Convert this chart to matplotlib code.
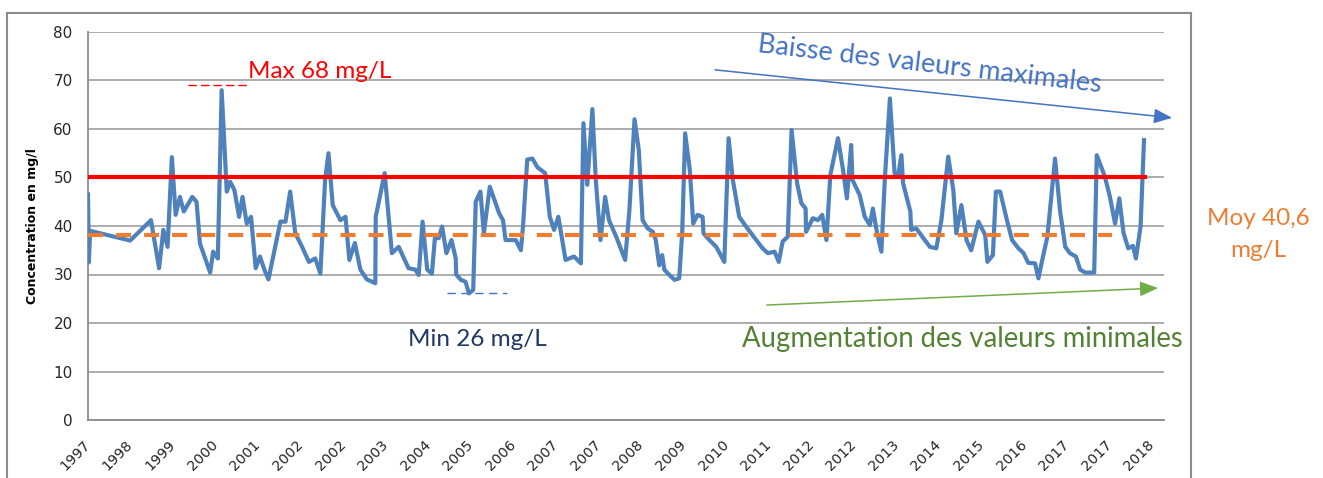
import matplotlib
matplotlib.use("Agg")
import matplotlib.pyplot as plt
from matplotlib.lines import Line2D

# position along the category axis (1 unit = one labelled step) and concentration (mg/l)
pos = [0.00, 0.02, 0.05, 0.99, 1.48, 1.67, 1.77, 1.87, 1.97, 2.06, 2.16, 2.25, 2.45, 2.55, 2.63,
       2.87, 2.94, 3.05, 3.14, 3.26, 3.34, 3.44, 3.55, 3.63, 3.73, 3.83, 3.94, 4.04, 4.16, 4.24,
       4.52, 4.64, 4.75, 4.87, 5.03, 5.19, 5.34, 5.46, 5.57, 5.65, 5.75, 5.93, 6.05, 6.14, 6.27,
       6.40, 6.55, 6.75, 6.76, 6.97, 7.14, 7.30, 7.53, 7.69, 7.77, 7.86, 7.97, 8.08, 8.15, 8.24,
       8.32, 8.42, 8.54, 8.64, 8.65, 8.76, 8.87, 8.95, 9.05, 9.11, 9.22, 9.30, 9.44, 9.66, 9.75,
       9.81, 10.05, 10.17, 10.22, 10.32, 10.44, 10.56, 10.74, 10.85, 10.95, 11.05, 11.22, 11.42,
       11.58, 11.64, 11.73, 11.85, 11.93, 12.04, 12.15, 12.24, 12.41, 12.62, 12.72, 12.84, 12.94,
       13.03, 13.15, 13.27, 13.34, 13.42, 13.49, 13.54, 13.66, 13.78, 13.89, 13.96, 14.03, 14.14,
       14.22, 14.32, 14.44, 14.46, 14.60, 14.76, 14.95, 15.05, 15.15, 15.30, 15.46, 15.70, 15.85,
       15.97, 16.13, 16.23, 16.32, 16.44, 16.53, 16.66, 16.76, 16.86, 16.87, 17.03, 17.15, 17.25,
       17.35, 17.44, 17.62, 17.74, 17.83, 17.93, 17.96, 18.13, 18.25, 18.37, 18.44, 18.54, 18.64,
       18.72, 18.84, 18.95, 19.03, 19.11, 19.15, 19.32, 19.34, 19.46, 19.66, 19.78, 19.93, 20.05,
       20.21, 20.33, 20.40, 20.52, 20.64, 20.75, 20.92, 21.08, 21.13, 21.26, 21.33, 21.43, 21.59,
       21.71, 21.86, 21.98, 22.09, 22.25, 22.33, 22.41, 22.54, 22.72, 22.84, 22.96, 23.07, 23.21,
       23.31, 23.43, 23.64, 23.70, 23.89, 24.01, 24.13, 24.23, 24.33, 24.44, 24.55, 24.62, 24.73,
       24.81]
conc = [46.5, 32.5, 39.0, 37.0, 41.2, 31.3, 39.2, 35.7, 54.2, 42.3, 46.0, 43.0, 46.0, 45.0, 36.4,
        30.4, 34.7, 33.3, 68.0, 47.1, 49.1, 47.4, 41.9, 46.0, 40.5, 41.9, 31.3, 33.7, 30.6, 29.0,
        40.9, 40.9, 47.1, 38.5, 35.7, 32.6, 33.3, 30.2, 49.5, 55.0, 44.3, 41.2, 41.9, 33.0, 36.5,
        31.0, 29.0, 28.2, 41.9, 50.9, 34.4, 35.7, 31.3, 31.0, 29.9, 40.9, 31.0, 30.2, 37.5, 37.5,
        39.9, 34.4, 37.1, 33.3, 30.0, 28.9, 28.5, 26.1, 26.8, 45.0, 47.1, 38.5, 48.1, 42.6, 41.2,
        37.1, 37.1, 35.0, 39.9, 53.7, 53.9, 52.1, 50.9, 41.9, 39.2, 41.9, 33.0, 33.7,
        32.3, 61.2, 48.5, 64.1, 49.5, 37.1, 46.0, 41.2, 37.8, 33.0, 43.3, 62.0, 55.7,
        41.2, 39.5, 38.8, 37.1, 31.9, 34.0, 31.0, 29.9, 28.9, 29.2, 38.5, 59.1, 51.5,
        40.5, 42.3, 41.9, 38.5, 37.1, 35.7, 32.6, 58.1, 49.5, 41.9, 39.9, 37.1, 35.4,
        34.4, 34.7, 32.6, 36.8, 37.8, 59.8, 48.8, 44.7, 43.6, 38.8, 41.6, 41.2, 42.3,
        37.1, 50.5, 58.1, 51.5, 45.7, 56.7, 49.5, 46.4, 41.9, 40.2, 43.6, 38.5, 34.7,
        49.5, 66.3, 50.9, 50.2, 54.6, 48.8, 43.0, 39.2, 39.5, 37.1, 35.7, 35.4, 41.2,
        54.3, 47.4, 38.5, 44.3, 37.1, 35.0, 40.9, 38.1, 32.6, 34.0, 47.1, 47.1, 41.2,
        37.1, 35.4, 34.4, 32.4, 32.3, 29.2, 32.6, 37.8, 53.9, 43.0, 35.7, 34.4, 33.7,
        31.0, 30.4, 30.4, 54.6, 50.2, 46.0, 40.5, 45.7, 38.5, 35.4, 35.9, 33.3, 39.9,
        57.7]

year_labels = ['1997', '1998', '1999', '2000', '2001', '2002', '2002', '2003', '2004',
               '2005', '2006', '2007', '2007', '2008', '2009', '2010', '2011', '2012', '2012',
               '2013', '2014', '2015', '2016', '2017', '2017', '2018']

seuil = 50
moyenne = 38.2
val_max = 68
val_min = 26

plt.rcParams['lines.scale_dashes'] = False
txt_font = ['Lato', 'DejaVu Sans']

fig = plt.figure(figsize=(13.23, 4.78), dpi=100)
ax = fig.add_axes([88/1323, 1 - 420/478, (1164-88)/1323, (420-32)/478])

ax.set_xlim(0, 25.28)
ax.set_ylim(0, 80)
ax.set_yticks(range(0, 81, 10))
ax.yaxis.grid(True, color='#a6a6a6', linewidth=1.3)
ax.set_axisbelow(True)
ax.set_xticks(range(len(year_labels)))
ax.set_xticklabels(year_labels, rotation=45, ha='right', va='center', rotation_mode='anchor',
                   fontsize=10.3, color='#262626')
ax.tick_params(axis='x', length=0, pad=16)
ax.tick_params(axis='y', length=0, pad=11, labelsize=11, labelcolor='#262626')
for s in ['top', 'right']:
    ax.spines[s].set_visible(False)
ax.spines['left'].set_color('#8c8c8c')
ax.spines['bottom'].set_color('#8c8c8c')
ax.spines['left'].set_linewidth(1.3)
ax.spines['bottom'].set_linewidth(1.3)

# series
ax.plot(pos, conc, color='#4f81bd', linewidth=3, solid_joinstyle='round', zorder=3)
ax.plot([0, 24.84], [seuil, seuil], color='#ff0000', linewidth=3, zorder=4)
ax.plot([0, 24.06], [moyenne, moyenne], color='#ed7d31', linewidth=3,
        dashes=(10.8, 9.4), zorder=4)

# max / min markers
ax.plot([2.35, 3.76], [69.1, 69.1], color='#ff0000', linewidth=1, dashes=(6, 3), clip_on=False)
ax.plot([8.43, 9.84], [val_min + 0.2, val_min + 0.2], color='#4472c4', linewidth=1,
        dashes=(6, 4), clip_on=False)
ax.text(5.45, 70.5, 'Max %d mg/L' % val_max, color='#ff0000', fontsize=17.5, family=txt_font,
        ha='center', va='baseline')
ax.text(7.52, 15.3, 'Min %d mg/L' % val_min, color='#1f3864', fontsize=17.5, family=txt_font,
        ha='left', va='baseline')

# trends
ax.annotate('', xy=(25.47, 62.3), xytext=(14.73, 72.2), annotation_clip=False,
            arrowprops=dict(arrowstyle='-|>,head_length=1.1,head_width=0.45', color='#4472c4',
                            lw=1.1, shrinkA=0, shrinkB=0))
ax.text(19.78, 73.2, 'Baisse des valeurs maximales', color='#4472c4', fontsize=19.5,
        family=txt_font, rotation=-6.7, rotation_mode='anchor', ha='center', va='center')
ax.annotate('', xy=(25.14, 27.2), xytext=(15.95, 23.7), annotation_clip=False,
            arrowprops=dict(arrowstyle='-|>,head_length=1.1,head_width=0.45', color='#70ad47',
                            lw=1.1, shrinkA=0, shrinkB=0))
ax.text(15.37, 15.05, 'Augmentation des valeurs minimales', color='#548235', fontsize=19.8,
        family=txt_font, ha='left', va='baseline')

ax.text(27.49, 40.2, 'Moy 40,6', color='#ed7d31', fontsize=17.5, family=txt_font,
        ha='center', va='baseline', clip_on=False)
ax.text(27.49, 33.6, 'mg/L', color='#ed7d31', fontsize=17.5, family=txt_font,
        ha='center', va='baseline', clip_on=False)

fig.text(33/1323, 1 - 226/478, 'Concentration en mg/l', rotation=90, ha='center', va='center',
         fontsize=9, fontweight='bold')

# chart frame
W, H = 1323, 478
for xs, ys in [([7, 7], [13, 478]), ([1191, 1191], [13, 478]), ([7, 1191], [13, 13])]:
    fig.add_artist(Line2D([x/W for x in xs], [1 - y/H for y in ys], color='#8c8c8c',
                          linewidth=1.5, transform=fig.transFigure))

fig.savefig('out.png', dpi=100)
